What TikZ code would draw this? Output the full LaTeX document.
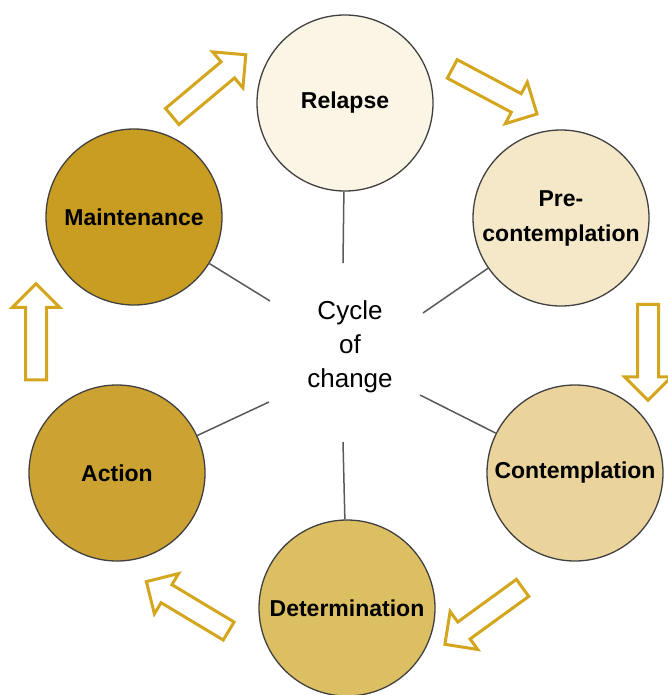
\documentclass[tikz,border=0pt]{standalone}
\usepackage{fontspec}
\setmainfont{Liberation Sans}
\usetikzlibrary{shapes.arrows}

\definecolor{relcol}{HTML}{FBF5E6}
\definecolor{precol}{HTML}{F4E8C8}
\definecolor{concol}{HTML}{EAD49C}
\definecolor{detcol}{HTML}{DCBF62}
\definecolor{actcol}{HTML}{CCA232}
\definecolor{mntcol}{HTML}{C89D22}
\definecolor{arrcol}{HTML}{D4A61E}

\begin{document}
\begin{tikzpicture}[x=1pt,y=-1pt,
  stage/.style={draw=black!75,line width=1.3pt,circle,minimum size=176pt,inner sep=0pt,
    align=center,font=\fontsize{23}{35}\selectfont\bfseries},
  spoke/.style={draw=black!65,line width=1.5pt},
  blockarr/.style={single arrow,draw=arrcol,line width=3pt,fill=white,
    minimum height=96pt,inner xsep=0pt,inner ysep=9pt,single arrow head extend=13pt}]
  \useasboundingbox (0,0) rectangle (668,695);

  \node[stage,fill=relcol] (rel) at (345,103) {Relapse};
  \node[stage,fill=precol] (pre) at (561,218) {Pre-\\contemplation};
  \node[stage,fill=concol] (con) at (575,473) {Contemplation};
  \node[stage,fill=detcol] (det) at (347,608) {Determination};
  \node[stage,fill=actcol] (act) at (117,473) {Action};
  \node[stage,fill=mntcol] (mnt) at (134,217) {Maintenance};

  \node[align=center,font=\fontsize{26}{34}\selectfont] (cyc) at (350,347) {Cycle\\of\\change};

  \coordinate (srel) at (343,263);
  \coordinate (spre) at (423,313);
  \coordinate (scon) at (420,395);
  \coordinate (sdet) at (343,442);
  \coordinate (sact) at (269,402);
  \coordinate (smnt) at (270,301);

  \draw[spoke] (rel) -- (srel);
  \draw[spoke] (pre) -- (spre);
  \draw[spoke] (con) -- (scon);
  \draw[spoke] (det) -- (sdet);
  \draw[spoke] (act) -- (sact);
  \draw[spoke] (mnt) -- (smnt);

  \node[blockarr,rotate=40] (a1) at (205,89) {};
  \node[blockarr,rotate=-28] (a2) at (490,89) {};
  \node[blockarr,rotate=-90] (a3) at (648,347) {};
  \node[blockarr,rotate=216] (a4) at (488,613) {};
  \node[blockarr,rotate=149] (a5) at (192,609) {};
  \node[blockarr,rotate=90] (a6) at (36,337) {};
\end{tikzpicture}
\end{document}
